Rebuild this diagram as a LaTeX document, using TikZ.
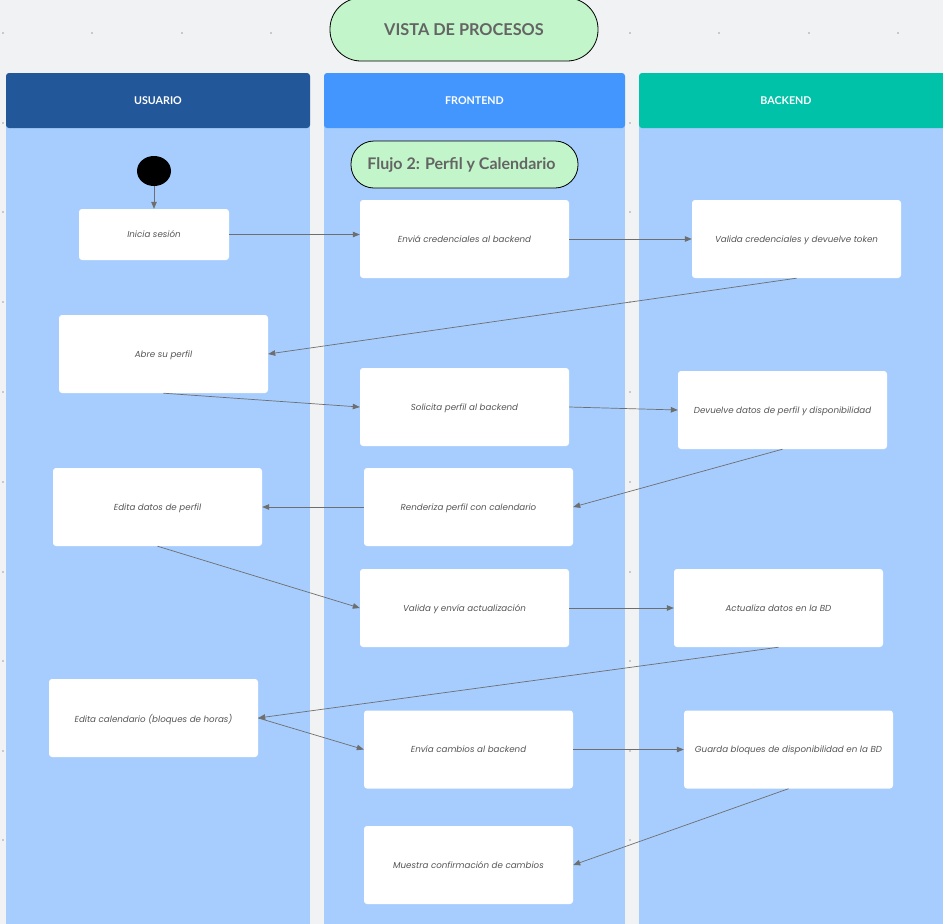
\documentclass[tikz,border=0pt]{standalone}
\usepackage{fontspec}
\setmainfont{Poppins}
\newfontfamily\headfont{Lato}
\usetikzlibrary{arrows.meta,shapes.geometric}
\definecolor{bgc}{HTML}{F1F2F4}
\definecolor{lanec}{HTML}{A6CDFE}
\definecolor{usrc}{HTML}{22579A}
\definecolor{frc}{HTML}{4496FF}
\definecolor{bkc}{HTML}{00C2A8}
\definecolor{greenc}{HTML}{C2F5C9}
\definecolor{arrc}{HTML}{6E6E6E}
\definecolor{txtc}{HTML}{555555}
\definecolor{titc}{HTML}{646464}
\definecolor{dotc}{HTML}{A0A0A0}
\tikzset{
  box/.style={draw=none, fill=white, rounded corners=3pt, font=\itshape\fontsize{8.7}{10}\selectfont, text=txtc, minimum width=209pt, minimum height=78pt, inner sep=0pt, text depth=-1.5pt},
  conn/.style={draw=arrc, line width=0.7pt, -{Triangle[length=7pt,width=5.5pt]}},
  lanehead/.style={fill=#1, rounded corners=3pt, draw=none, text=white, font=\headfont\bfseries\fontsize{10.7}{12}\selectfont, inner sep=0pt},
  headtext/.style={text=white, font=\headfont\bfseries\fontsize{10.7}{12}\selectfont, inner sep=0pt},
  pill/.style={draw=black, line width=0.8pt, fill=greenc, text=titc, inner sep=0pt},
  gdot/.style={circle, fill=dotc, inner sep=0pt, minimum size=1.8pt}
}
\begin{document}
\begin{tikzpicture}[x=1pt,y=-1pt]
\useasboundingbox (0,0) rectangle (943,924);
\fill[bgc] (0,0) rectangle (943,924);
% grid dots
\foreach \xx in {3,92,182,271,630,719,809,898} \node[gdot] at (\xx,33) {};
\foreach \yy in {123,212,302,392,482,572,661,751,840} {
  \node[gdot] at (3,\yy) {};
  \node[gdot] at (630,\yy) {};
}
% lanes
\fill[lanec] (6,110) rectangle (310,930);
\fill[lanec] (324,110) rectangle (625,930);
\fill[lanec] (639,110) rectangle (950,930);
\node[lanehead=usrc, minimum width=304pt, minimum height=55pt] (hu) at (158,100.5) {USUARIO};
\node[lanehead=frc, minimum width=301pt, minimum height=55pt] (hf) at (474.5,100.5) {FRONTEND};
\fill[bkc, rounded corners=3pt] (639,73) rectangle (960,128);
\node[headtext] (hb) at (786,100.5) {BACKEND};
% title pills
\node[pill, rounded corners=31pt, minimum width=268pt, minimum height=63pt, font=\headfont\bfseries\fontsize{16.3}{18}\selectfont] (title) at (464,29.5) {VISTA DE PROCESOS};
\node[pill, rounded corners=23pt, minimum width=227pt, minimum height=47pt, font=\headfont\bfseries\fontsize{16}{18}\selectfont] (flujo) at (464.5,164.5) {\hspace*{-6pt}Flujo 2: Perfil y Calendario};
% start
\node[ellipse, fill=black, minimum width=34pt, minimum height=30pt, inner sep=0pt] (start) at (154,171) {};
% boxes
\node[box, minimum width=150pt, minimum height=51pt] (b1) at (154,234.5) {Inicia sesión};
\node[box] (b2) at (464.5,239) {Enviá credenciales al backend};
\node[box] (b3) at (796.5,239) {Valida credenciales y devuelve token};
\node[box] (b4) at (163.5,354) {Abre su perfil};
\node[box] (b5) at (464.5,407) {Solicita perfil al backend};
\node[box] (b6) at (782.5,410) {Devuelve datos de perfil y disponibilidad};
\node[box] (b7) at (157.5,507) {Edita datos de perfil};
\node[box] (b8) at (468.5,507) {Renderiza perfil con calendario};
\node[box] (b9) at (464.5,608) {Valida y envía actualización};
\node[box] (b10) at (778.5,608) {Actualiza datos en la BD};
\node[box] (b11) at (153.5,718) {Edita calendario (bloques de horas)};
\node[box] (b12) at (468.5,749.5) {Envía cambios al backend};
\node[box] (b13) at (788.5,749.5) {Guarda bloques de disponibilidad en la BD};
\node[box] (b14) at (468.5,865) {Muestra confirmación de cambios};
% connectors
\draw[conn] (start) -- (b1);
\draw[conn] (b1.east) -- (b1.east -| b2.west);
\draw[conn] (b2) -- (b3);
\draw[conn] (b3.south) -- (b4.east);
\draw[conn] (b4.south) -- (b5.west);
\draw[conn] (b5.east) -- (b6.west);
\draw[conn] (b6.south) -- (b8.east);
\draw[conn] (b8) -- (b7);
\draw[conn] (b7.south) -- (b9.west);
\draw[conn] (b9) -- (b10);
\draw[conn] (b10.south) -- (b11.east);
\draw[conn] (b11.east) -- (b12.west);
\draw[conn] (b12) -- (b13);
\draw[conn] (b13.south) -- (b14.east);
\end{tikzpicture}
\end{document}
